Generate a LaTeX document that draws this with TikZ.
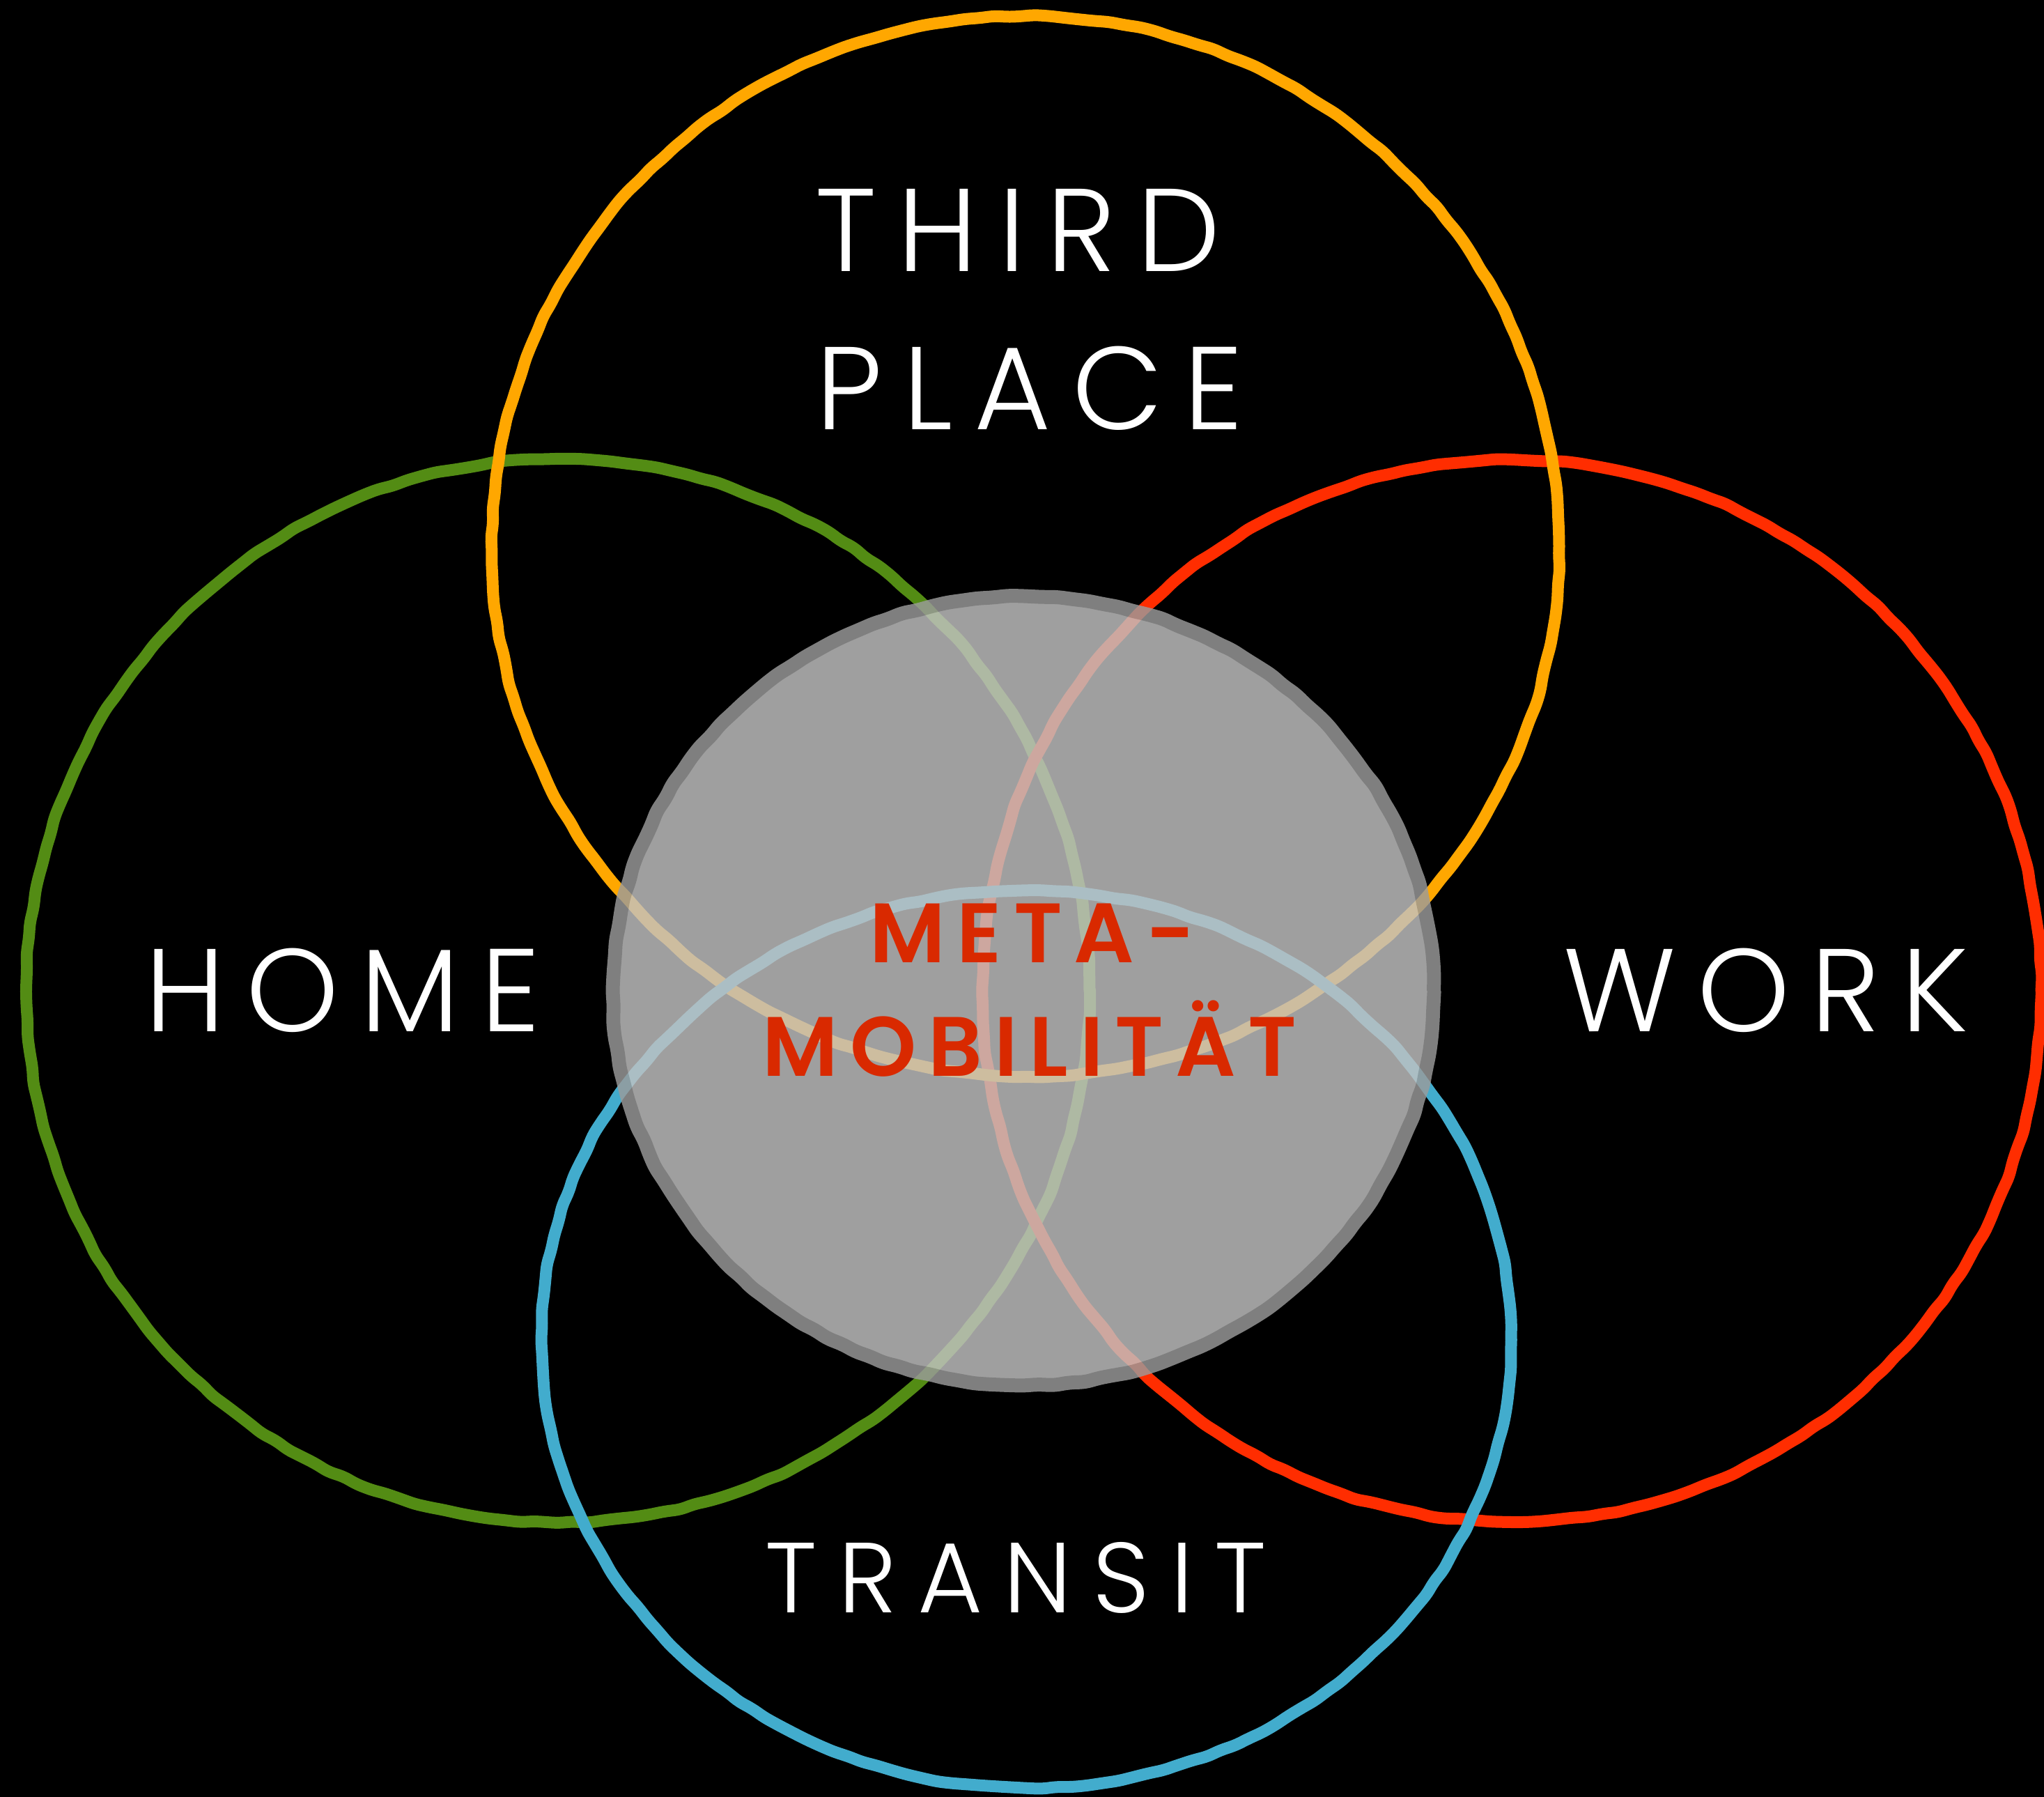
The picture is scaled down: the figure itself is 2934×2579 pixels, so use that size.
\documentclass[tikz,border=0pt]{standalone}
\usepackage{fontspec}
\newfontfamily\lblfont{Poppins Light}[LetterSpace=18]
\newfontfamily\tlblfont{Poppins Light}[LetterSpace=21]
\newfontfamily\metafont{Poppins SemiBold}[LetterSpace=14]
\usetikzlibrary{decorations.pathmorphing}
\definecolor{cOrange}{RGB}{255,167,0}
\definecolor{cGreen}{RGB}{83,140,20}
\definecolor{cRed}{RGB}{255,45,0}
\definecolor{cBlue}{RGB}{66,172,205}
\definecolor{cGrayFill}{RGB}{195,195,195}
\definecolor{cGrayLine}{RGB}{156,156,156}
\definecolor{cMeta}{RGB}{217,41,0}
\begin{document}
\begin{tikzpicture}[x=1pt,y=-1pt,
  wobble/.style={decorate, decoration={random steps, segment length=22pt, amplitude=1.4pt}, rounded corners=8pt},
  ring/.style={line width=17pt, line join=round, line cap=round, wobble},
  lab/.style={text=white, anchor=base, inner sep=0pt, font=\lblfont\fontsize{169}{169}\selectfont},
  tlab/.style={text=white, anchor=base, inner sep=0pt, font=\tlblfont\fontsize{143}{143}\selectfont},
  meta/.style={text=cMeta, anchor=base, inner sep=0pt, font=\metafont\fontsize{121}{121}\selectfont}]
\pgfmathsetseed{7}
\fill[black] (0,0) rectangle (2934,2579);
\useasboundingbox (0,0) rectangle (2934,2579);
% rings
\draw[ring, cGreen] (801,1422) circle[x radius=763pt, y radius=763pt];
\draw[ring, cRed] (2170,1422) circle[x radius=760pt, y radius=762pt];
\draw[ring, cOrange] (1472,784) circle[x radius=766pt, y radius=761pt];
\draw[ring, cBlue] (1473,1922) circle[x radius=696pt, y radius=644pt];
% central overlay
\begin{scope}[transparency group, opacity=0.82]
\draw[line width=20pt, cGrayLine, fill=cGrayFill, line join=round, wobble]
  (1469,1422) circle[x radius=589pt, y radius=566pt];
\end{scope}
% labels
\node[lab] (third) at (1461,389) {THIRD};
\node[lab] (place) at (1478,616) {PLACE};
\node[lab] (home) at (492,1480) {HOME};
\node[lab] (work) at (2535,1480) {WORK};
\node[tlab] (transit) at (1458,2314) {TRANSIT};
\node[meta] (meta) at (1482,1381) {META-};
\node[meta] (mobil) at (1478,1544) {MOBILITÄT};
\end{tikzpicture}
\end{document}
